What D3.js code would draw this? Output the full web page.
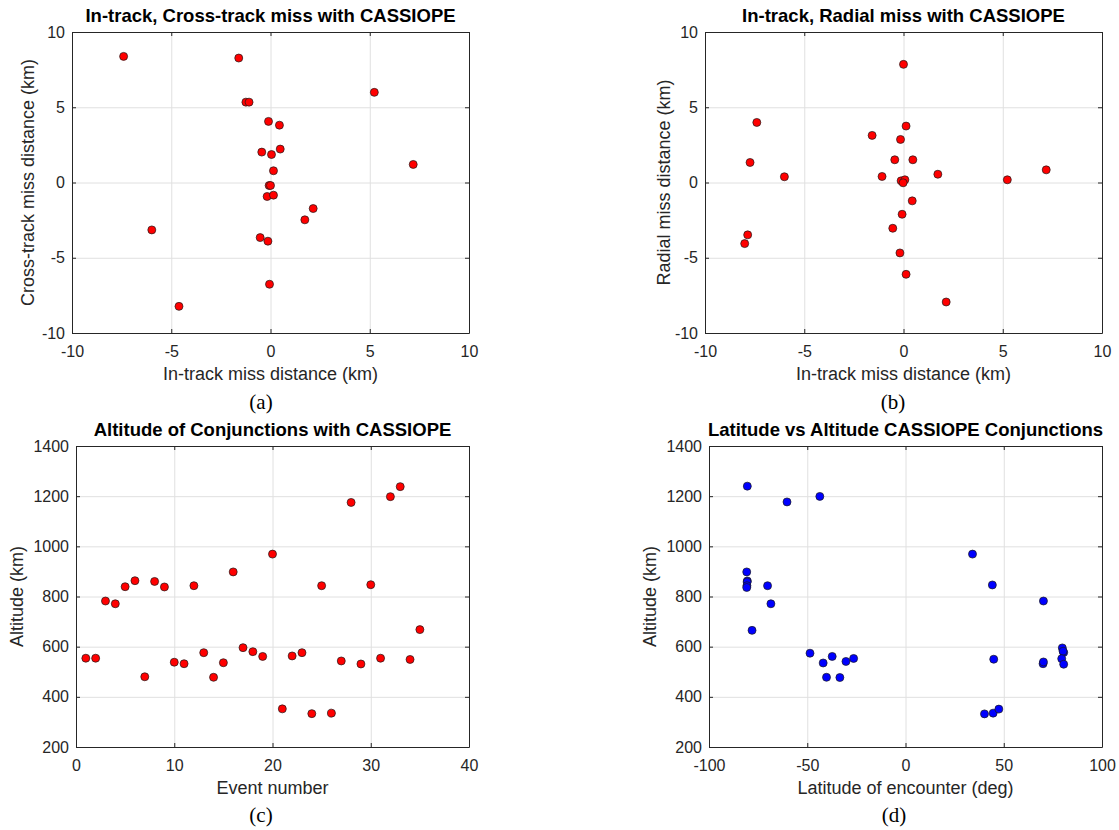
<!DOCTYPE html>
<html>
<head>
<meta charset="utf-8">
<script src="https://cdn.jsdelivr.net/npm/d3@7"></script>
<style>
  body { margin: 0; background: #fff; }
  svg text { font-family: "Liberation Sans", Arial, sans-serif; fill: #262626; }
  .grid line { stroke: #e0e0e0; stroke-width: 1; }
  .grid path { display: none; }
  .axis path, .axis line { stroke: #262626; stroke-width: 1; }
  .axis text { font-size: 16px; }
</style>
</head>
<body>
<div id="fig"></div>
<script>
// (a) in-track vs cross-track miss (km)
const inTrackA = [-7.4, -1.6, -1.24, -1.08, 5.23, -0.1, 0.45, -0.44, 0.05, 0.49, 7.19, 0.15, -0.07, 0.0, -0.17, 0.15, 2.15, 1.73, -5.98, -0.52, -0.13, -0.05, -4.61];
const crossTrackA = [8.38, 8.27, 5.34, 5.34, 5.99, 4.06, 3.81, 2.02, 1.86, 2.22, 1.2, 0.78, -0.2, -0.2, -0.93, -0.84, -1.73, -2.48, -3.15, -3.66, -3.9, -6.76, -8.23];

// (b) in-track vs radial miss (km)
const inTrackB = [0.0, -7.39, 0.13, -1.58, -0.15, -7.73, -0.44, 0.47, -6.0, -1.08, 1.73, 5.23, 7.19, -0.12, 0.07, -0.02, 0.44, -0.07, -0.54, -7.85, -8.0, -0.18, 0.13, 2.15];
const radialB = [7.85, 3.99, 3.75, 3.13, 2.86, 1.33, 1.51, 1.51, 0.38, 0.4, 0.55, 0.18, 0.84, 0.11, 0.18, -0.02, -1.22, -2.11, -3.04, -3.48, -4.06, -4.68, -6.1, -7.94];

// (c) altitude per event
const eventNumber = [1, 2, 3, 4, 5, 6, 7, 8, 9, 10, 11, 12, 13, 14, 15, 16, 17, 18, 19, 20, 21, 22, 23, 24, 25, 26, 27, 28, 29, 30, 31, 32, 33, 34, 35];
const altitudeC = [554, 554, 782, 771, 839, 863, 480, 860, 838, 538, 532, 843, 576, 478, 536, 898, 596, 580, 561, 969, 352, 563, 576, 333, 843, 335, 543, 1175, 531, 847, 554, 1198, 1238, 549, 668];

// (d) latitude vs altitude
const latitudeD = [-80.5, -60.3, -43.6, -80.8, -80.5, -80.6, -80.7, -80.8, -70.2, -68.5, -78.1, -48.6, -41.9, -37.3, -40.2, -33.4, -30.3, -26.4, 34.1, 44.2, 44.9, 40.2, 44.6, 47.5, 70.2, 70.0, 70.2, 79.8, 80.5, 80.2, 79.5, 80.5];
const altitudeD = [1240, 1177, 1199, 898, 862, 858, 843, 836, 843, 771, 665, 574, 535, 561, 478, 477, 541, 553, 969, 846, 550, 332, 335, 351, 782, 532, 539, 595, 577, 582, 552, 530];

const missTicks = [-10, -5, 0, 5, 10];
const eventTicks = [0, 10, 20, 30, 40];
const latTicks = [-100, -50, 0, 50, 100];
const altTicks = [200, 400, 600, 800, 1000, 1200, 1400];

const panels = [
  { left: 72, right: 469, top: 32, bottom: 333, xs: inTrackA, ys: crossTrackA,
    xDomain: [-10, 10], yDomain: [-10, 10], xTicks: missTicks, yTicks: missTicks,
    title: 'In-track, Cross-track miss with CASSIOPE', xLabel: 'In-track miss distance (km)',
    yLabel: 'Cross-track miss distance (km)', yLabelOff: 38, tag: '(a)', tagX: 261, tagY: 409, color: '#ff0000' },
  { left: 705, right: 1102, top: 32, bottom: 333, xs: inTrackB, ys: radialB,
    xDomain: [-10, 10], yDomain: [-10, 10], xTicks: missTicks, yTicks: missTicks,
    title: 'In-track, Radial miss with CASSIOPE', xLabel: 'In-track miss distance (km)',
    yLabel: 'Radial miss distance (km)', yLabelOff: 35, tag: '(b)', tagX: 893, tagY: 409, color: '#ff0000' },
  { left: 76, right: 469, top: 446, bottom: 747, xs: eventNumber, ys: altitudeC,
    xDomain: [0, 40], yDomain: [200, 1400], xTicks: eventTicks, yTicks: altTicks,
    title: 'Altitude of Conjunctions with CASSIOPE', xLabel: 'Event number',
    yLabel: 'Altitude (km)', yLabelOff: 53, tag: '(c)', tagX: 261, tagY: 822, color: '#ff0000' },
  { left: 709, right: 1102, top: 446, bottom: 747, xs: latitudeD, ys: altitudeD,
    xDomain: [-100, 100], yDomain: [200, 1400], xTicks: latTicks, yTicks: altTicks,
    title: 'Latitude vs Altitude CASSIOPE Conjunctions', xLabel: 'Latitude of encounter (deg)',
    yLabel: 'Altitude (km)', yLabelOff: 53, tag: '(d)', tagX: 894, tagY: 822, color: '#0000ff' }
];

const svg = d3.select('#fig').append('svg')
  .attr('width', 1119)
  .attr('height', 830);

const fmt = d => String(d);

function drawPanel(p) {
  const w = p.right - p.left, h = p.bottom - p.top;
  const g = svg.append('g').attr('transform', `translate(${p.left},${p.top})`);
  const x = d3.scaleLinear().domain(p.xDomain).range([0, w]);
  const y = d3.scaleLinear().domain(p.yDomain).range([h, 0]);

  // grid lines
  g.append('g').attr('class', 'grid').attr('transform', `translate(0,${h})`)
    .call(d3.axisBottom(x).tickValues(p.xTicks).tickSize(-h).tickFormat(''));
  g.append('g').attr('class', 'grid')
    .call(d3.axisLeft(y).tickValues(p.yTicks).tickSize(-w).tickFormat(''));

  // markers
  g.append('g').selectAll('circle')
    .data(d3.zip(p.xs, p.ys))
    .join('circle')
      .attr('cx', d => x(d[0]))
      .attr('cy', d => y(d[1]))
      .attr('r', 4)
      .attr('fill', p.color)
      .attr('stroke', '#1a1a1a')
      .attr('stroke-width', 0.7);

  // box with inward ticks
  g.append('g').attr('class', 'axis').attr('transform', `translate(0,${h})`)
    .call(d3.axisBottom(x).tickValues(p.xTicks).tickSize(-4).tickSizeOuter(0).tickPadding(13).tickFormat(fmt));
  g.append('g').attr('class', 'axis')
    .call(d3.axisLeft(y).tickValues(p.yTicks).tickSize(-4).tickSizeOuter(0).tickPadding(7).tickFormat(fmt));
  g.append('g').attr('class', 'axis')
    .call(d3.axisTop(x).tickValues(p.xTicks).tickSize(-4).tickSizeOuter(0).tickFormat(''));
  g.append('g').attr('class', 'axis').attr('transform', `translate(${w},0)`)
    .call(d3.axisRight(y).tickValues(p.yTicks).tickSize(-4).tickSizeOuter(0).tickFormat(''));

  // texts
  g.append('text')
    .attr('x', w / 2).attr('y', -10)
    .attr('text-anchor', 'middle')
    .style('font-size', '18.5px').style('font-weight', 'bold').style('fill', '#000')
    .text(p.title);
  g.append('text')
    .attr('x', w / 2).attr('y', h + 47)
    .attr('text-anchor', 'middle')
    .style('font-size', '18px')
    .text(p.xLabel);
  g.append('text')
    .attr('transform', `translate(${-p.yLabelOff},${h / 2}) rotate(-90)`)
    .attr('text-anchor', 'middle')
    .style('font-size', '18px')
    .text(p.yLabel);

  svg.append('text')
    .attr('x', p.tagX).attr('y', p.tagY)
    .attr('text-anchor', 'middle')
    .style('font-family', '"Liberation Serif", "Times New Roman", serif')
    .style('font-size', '21px').style('fill', '#000')
    .text(p.tag);
}

panels.forEach(drawPanel);
</script>
</body>
</html>
